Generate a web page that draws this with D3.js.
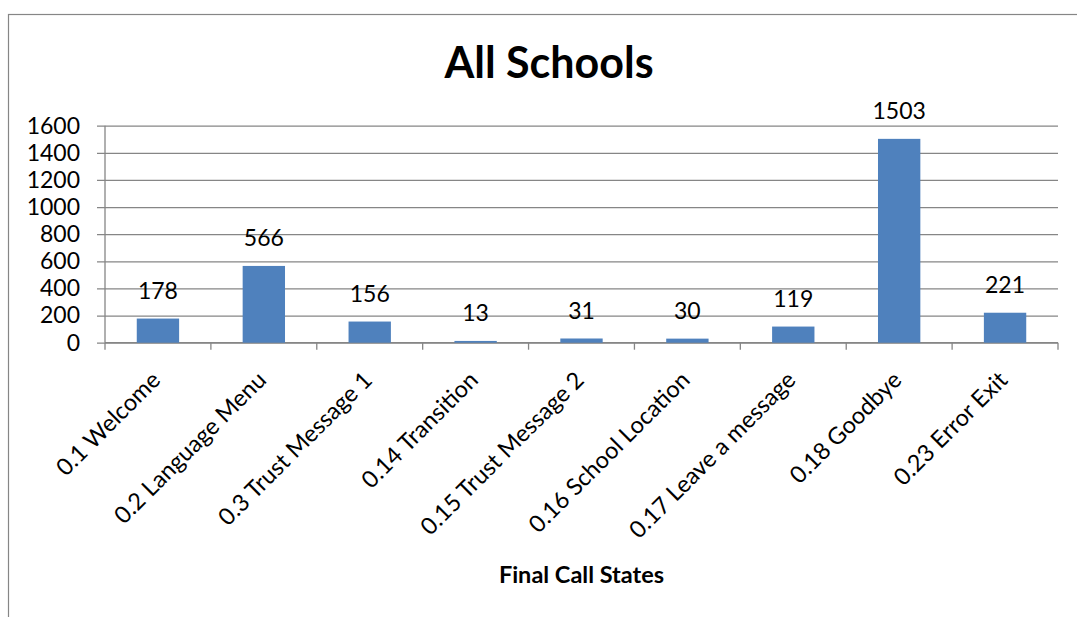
<!DOCTYPE html>
<html>
<head>
<meta charset="utf-8">
<script src="https://cdn.jsdelivr.net/npm/d3@7"></script>
<style>
  html, body { margin: 0; padding: 0; background: #fff; }
  svg { display: block; }
  text { font-family: Lato, "Open Sans", "Liberation Sans", sans-serif; fill: #000; }
</style>
</head>
<body>
<svg id="chart" width="1077" height="617"></svg>
<script>
// Final call states across all schools
const categories = [
  "0.1 Welcome", "0.2 Language Menu", "0.3 Trust Message 1", "0.14 Transition",
  "0.15 Trust Message 2", "0.16 School Location", "0.17 Leave a message",
  "0.18 Goodbye", "0.23 Error Exit"
];
const values = [178, 566, 156, 13, 31, 30, 119, 1503, 221];
const yTicks = [0, 200, 400, 600, 800, 1000, 1200, 1400, 1600];
const chartTitle = "All Schools";
const xAxisTitle = "Final Call States";

const W = 1077, H = 617;
const plot = { left: 105, right: 1058, top: 125.7, bottom: 342.7 };
const gridColor = "#868686";
const barColor = "#4F81BD";

const svg = d3.select("#chart");

// outer chart frame
svg.append("rect")
  .attr("x", 8.5).attr("y", 14.5)
  .attr("width", 1100).attr("height", 700)
  .attr("fill", "#fff")
  .attr("stroke", gridColor).attr("stroke-width", 1.2);

const x = d3.scaleBand()
  .domain(categories)
  .range([plot.left, plot.right])
  .paddingInner(0.6).paddingOuter(0.3);

const y = d3.scaleLinear()
  .domain([0, 1600])
  .range([plot.bottom, plot.top]);

// value axis with gridlines spanning the plot
const yAxis = svg.append("g")
  .attr("transform", `translate(${plot.left},0)`)
  .call(d3.axisLeft(y).tickValues(yTicks).tickFormat(d3.format("d"))
    .tickSize(-(plot.right - plot.left)).tickSizeOuter(0).tickPadding(25));
yAxis.select(".domain").remove();
yAxis.selectAll(".tick line")
  .attr("x1", -8)
  .attr("stroke", gridColor).attr("stroke-width", 1.3);
yAxis.selectAll(".tick text")
  .attr("font-size", 23).attr("fill", "#000")
  .attr("font-family", "Lato, sans-serif");

// vertical axis line
svg.append("line")
  .attr("x1", plot.left).attr("x2", plot.left)
  .attr("y1", plot.top).attr("y2", plot.bottom)
  .attr("stroke", gridColor).attr("stroke-width", 1.3);

// category axis: line plus boundary tick marks
const step = (plot.right - plot.left) / categories.length;
const boundaries = d3.range(categories.length + 1).map(i => plot.left + i * step);
svg.append("line")
  .attr("x1", plot.left).attr("x2", plot.right)
  .attr("y1", plot.bottom).attr("y2", plot.bottom)
  .attr("stroke", gridColor).attr("stroke-width", 1.3);
svg.append("g").selectAll("line").data(boundaries).join("line")
  .attr("x1", d => d).attr("x2", d => d)
  .attr("y1", plot.bottom).attr("y2", plot.bottom + 7)
  .attr("stroke", gridColor).attr("stroke-width", 1.3);

// bars
svg.append("g").selectAll("rect").data(values).join("rect")
  .attr("x", (d, i) => x(categories[i]))
  .attr("width", x.bandwidth())
  .attr("y", d => y(d))
  .attr("height", d => y(0) - y(d))
  .attr("fill", barColor);

// value labels above bars
svg.append("g").selectAll("text").data(values).join("text")
  .attr("x", (d, i) => x(categories[i]) + x.bandwidth() / 2)
  .attr("y", d => y(d) - 19.5)
  .attr("text-anchor", "middle")
  .attr("font-size", 23)
  .text(d => d);

// rotated category labels
svg.append("g").selectAll("text").data(categories).join("text")
  .attr("transform", d => `translate(${x(d) + x.bandwidth() / 2 - 2},${plot.bottom + 33}) rotate(-45)`)
  .attr("text-anchor", "end")
  .attr("dy", "0.35em")
  .attr("font-size", 23.5)
  .text(d => d);

// chart title
svg.append("text")
  .attr("x", 549).attr("y", 78.3)
  .attr("text-anchor", "middle")
  .attr("font-size", 43).attr("font-weight", "bold")
  .text(chartTitle);

// category axis title
svg.append("text")
  .attr("x", (plot.left + plot.right) / 2).attr("y", 582.7)
  .attr("text-anchor", "middle")
  .attr("font-size", 23.5).attr("font-weight", "bold")
  .text(xAxisTitle);
</script>
</body>
</html>
